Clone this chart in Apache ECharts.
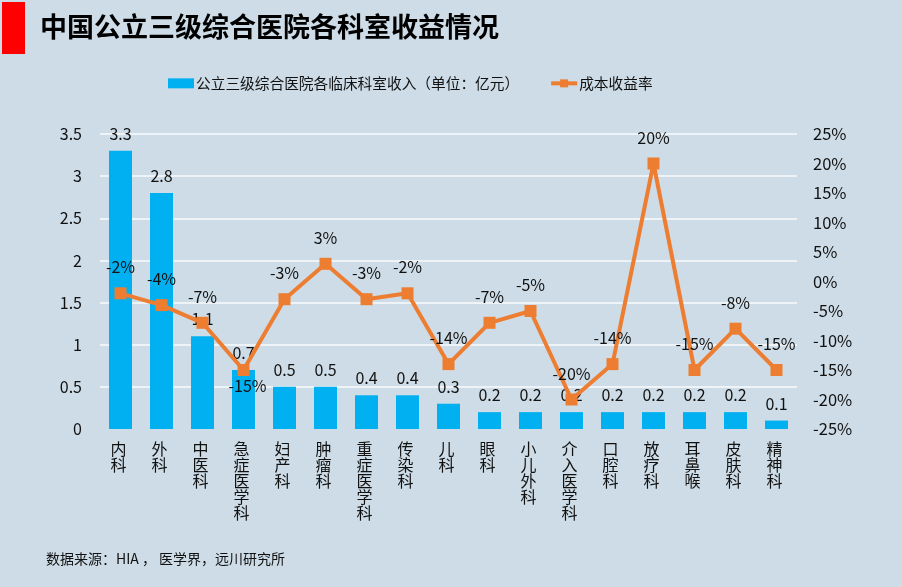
<!DOCTYPE html>
<html>
<head>
<meta charset="utf-8">
<style>
  html, body { margin: 0; padding: 0; background: #cddce6; }
  #main { width: 902px; height: 587px; }
</style>
<script src="https://cdn.jsdelivr.net/npm/echarts@6/dist/echarts.min.js"></script>
</head>
<body>
<div id="main"></div>
<script>
var titleText = "中国公立三级综合医院各科室收益情况";
var sourceText = "数据来源：HIA ， 医学界，远川研究所";
var barName = "公立三级综合医院各临床科室收入（单位：亿元）";
var lineName = "成本收益率";
var categories = ["内科", "外科", "中医科", "急症医学科", "妇产科", "肿瘤科", "重症医学科", "传染科", "儿科",
  "眼科", "小儿外科", "介入医学科", "口腔科", "放疗科", "耳鼻喉", "皮肤科", "精神科"];
var revenue = [3.3, 2.8, 1.1, 0.7, 0.5, 0.5, 0.4, 0.4, 0.3, 0.2, 0.2, 0.2, 0.2, 0.2, 0.2, 0.2, 0.1];
var returnRate = [-2, -4, -7, -15, -3, 3, -3, -2, -14, -7, -5, -20, -14, 20, -15, -8, -15];

var fontName = '"Noto Sans CJK SC", sans-serif';
var chart = echarts.init(document.getElementById("main"), null, { renderer: "canvas" });

// the 急症医学科 label sits under its marker in the original
var rateData = returnRate.map(function (v, i) {
  if (categories[i] === "急症医学科") {
    return { value: v, label: { position: "bottom", distance: 2, offset: [4, 0] } };
  }
  return v;
});

chart.setOption({
  backgroundColor: "#cddce6",
  animation: false,
  textStyle: { fontFamily: fontName, color: "#000" },
  title: [
    {
      text: titleText,
      left: 35,
      top: 8,
      textStyle: { fontFamily: fontName, fontSize: 27, fontWeight: "bold", color: "#000" },
    },
    {
      text: sourceText,
      left: 41,
      top: 547,
      textStyle: { fontFamily: fontName, fontSize: 14, fontWeight: "normal", color: "#111" },
    },
  ],
  graphic: [
    {
      type: "rect",
      shape: { x: 2, y: 2, width: 23, height: 52 },
      style: { fill: "#ff0000" },
    },
  ],
  legend: {
    left: 163,
    top: 71,
    itemGap: 30,
    itemWidth: 26,
    itemHeight: 10,
    lineStyle: { width: 4 },
    textStyle: { fontFamily: fontName, fontSize: 14.7, color: "#111", padding: [0, 0, 0, -3] },
    data: [
      { name: barName, icon: "rect" },
      { name: lineName },
    ],
  },
  grid: { left: 100, right: 105, top: 134, bottom: 158 },
  xAxis: {
    type: "category",
    data: categories,
    axisLine: { show: false },
    axisTick: { show: false },
    axisLabel: {
      interval: 0,
      margin: 12,
      fontSize: 16,
      lineHeight: 16,
      color: "#111",
      padding: [0, 4, 0, 0],
      formatter: function (val) {
        return val.split("").join("\n");
      },
    },
  },
  yAxis: [
    {
      type: "value",
      min: 0,
      max: 3.5,
      interval: 0.5,
      axisLine: { show: false },
      axisTick: { show: false },
      axisLabel: { margin: 18, fontSize: 16, color: "#111" },
      splitLine: { show: true, showMinLine: false, lineStyle: { color: "#eef3f7", width: 2 } },
    },
    {
      type: "value",
      min: -25,
      max: 25,
      interval: 5,
      position: "right",
      axisLine: { show: false },
      axisTick: { show: false },
      axisLabel: { margin: 16, fontSize: 16.5, color: "#111", formatter: "{value}%" },
      splitLine: { show: false },
    },
  ],
  series: [
    {
      name: barName,
      type: "bar",
      data: revenue,
      barWidth: 23,
      itemStyle: { color: "#00b0f0" },
      label: { show: true, position: "top", distance: 9, fontSize: 16, color: "#111" },
      z: 2,
    },
    {
      name: lineName,
      type: "line",
      yAxisIndex: 1,
      data: rateData,
      symbol: "rect",
      symbolSize: 12,
      showAllSymbol: true,
      lineStyle: { color: "#ed7d31", width: 4 },
      itemStyle: { color: "#ed7d31" },
      label: {
        show: true,
        position: "top",
        distance: 12,
        fontSize: 16,
        color: "#111",
        formatter: function (p) {
          return p.value + "%";
        },
      },
      z: 3,
    },
  ],
});
</script>
</body>
</html>
